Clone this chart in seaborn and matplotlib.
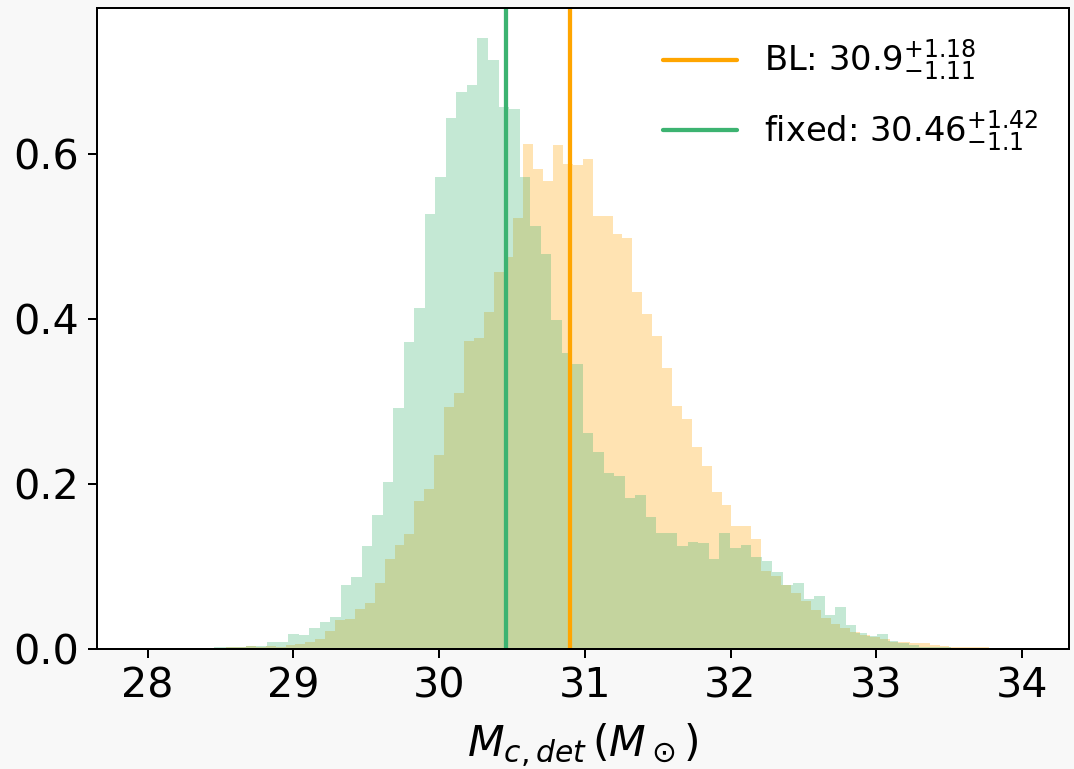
import matplotlib
matplotlib.use("Agg")
import matplotlib.pyplot as plt
import seaborn as sns
import numpy as np
import pandas as pd

# chirp mass posteriors (density per bin)
bl_start, bl_width = 27.994, 0.068
bl_heights = [
    0.0, 0.0, 0.0, 0.0005, 0.0005, 0.001, 0.001, 0.001,
    0.002, 0.003, 0.004, 0.003, 0.004, 0.003, 0.005, 0.006,
    0.008, 0.012, 0.022, 0.035, 0.037, 0.049, 0.056, 0.080,
    0.109, 0.126, 0.139, 0.179, 0.194, 0.235, 0.294, 0.311,
    0.374, 0.377, 0.409, 0.457, 0.475, 0.523, 0.613, 0.582,
    0.568, 0.612, 0.588, 0.587, 0.595, 0.525, 0.525, 0.504,
    0.499, 0.433, 0.407, 0.380, 0.341, 0.295, 0.279, 0.245,
    0.222, 0.191, 0.175, 0.149, 0.149, 0.133, 0.095, 0.088,
    0.078, 0.068, 0.058, 0.047, 0.038, 0.030, 0.025, 0.021,
    0.017, 0.014, 0.012, 0.009, 0.008, 0.007, 0.007, 0.005,
    0.004, 0.003, 0.003, 0.002, 0.002, 0.001, 0.001, 0.0005,
]

fixed_start, fixed_width = 27.953, 0.0722
fixed_heights = [
    0.0, 0.0, 0.0, 0.0, 0.0005, 0.0005, 0.001, 0.002,
    0.002, 0.003, 0.004, 0.004, 0.008, 0.009, 0.018, 0.017,
    0.026, 0.033, 0.039, 0.078, 0.087, 0.125, 0.162, 0.203,
    0.293, 0.373, 0.414, 0.528, 0.573, 0.644, 0.676, 0.684,
    0.741, 0.714, 0.657, 0.655, 0.573, 0.513, 0.479, 0.399,
    0.359, 0.346, 0.262, 0.239, 0.214, 0.210, 0.183, 0.187,
    0.160, 0.141, 0.141, 0.125, 0.130, 0.129, 0.109, 0.141,
    0.122, 0.126, 0.112, 0.107, 0.093, 0.078, 0.080, 0.061,
    0.064, 0.041, 0.051, 0.029, 0.019, 0.016, 0.018, 0.010,
    0.007, 0.005, 0.003, 0.002, 0.002, 0.001, 0.001, 0.001,
    0.0005, 0.0005, 0.0, 0.0005,
]

bl_median, bl_up, bl_lo = 30.9, 1.18, 1.11
fixed_median, fixed_up, fixed_lo = 30.46, 1.42, 1.1

c_bl = "#FFA500"
c_fixed = "#3CB371"

sns.set_style("ticks")
plt.rcParams["font.family"] = ["DejaVu Sans"]
for key in ["text.color", "axes.labelcolor", "xtick.color", "ytick.color", "axes.edgecolor"]:
    plt.rcParams[key] = "black"

fig, ax = plt.subplots(figsize=(1074 / 180, 769 / 180), dpi=180)
fig.patch.set_facecolor("#f8f8f8")
fig.subplots_adjust(left=0.090, right=0.995, bottom=0.156, top=0.990)


def draw_hist(start, width, heights, color):
    n = len(heights)
    centers = start + width * (np.arange(n) + 0.5)
    df = pd.DataFrame({"mc": centers, "w": np.asarray(heights, dtype=float)})
    sns.histplot(data=df, x="mc", weights="w", binwidth=width,
                 binrange=(start, start + n * width), element="step",
                 fill=True, color=color, alpha=0.3, linewidth=0, ax=ax)


draw_hist(bl_start, bl_width, bl_heights, c_bl)
draw_hist(fixed_start, fixed_width, fixed_heights, c_fixed)

ax.axvline(bl_median, color=c_bl, lw=1.7,
           label=rf"BL: ${bl_median}^{{+{bl_up}}}_{{-{bl_lo}}}$")
ax.axvline(fixed_median, color=c_fixed, lw=1.7,
           label=rf"fixed: ${fixed_median}^{{+{fixed_up}}}_{{-{fixed_lo}}}$")

ax.set_xlim(27.65, 34.32)
ax.set_ylim(0, 0.778)
ax.set_xticks([28, 29, 30, 31, 32, 33, 34])
ax.set_yticks([0.0, 0.2, 0.4, 0.6])
ax.tick_params(labelsize=16.5, colors="black")
ax.set_ylabel("")
ax.set_xlabel(r"$M_{c,det}\,(M_\odot)$", fontsize=17, labelpad=6)

ax.legend(loc="upper right", frameon=False, fontsize=13.5, handlelength=2.2,
          labelspacing=0.75)

fig.savefig("out.png", dpi=180, facecolor=fig.get_facecolor())
